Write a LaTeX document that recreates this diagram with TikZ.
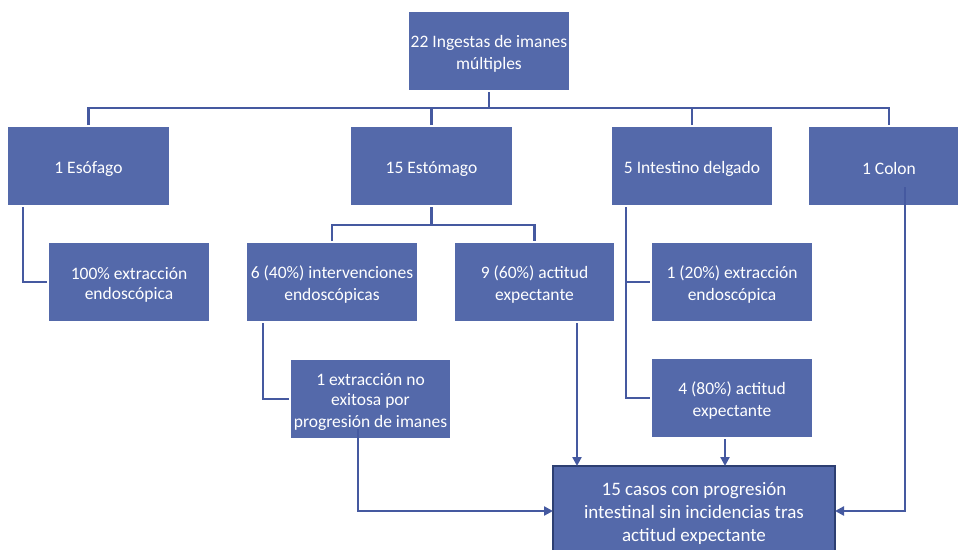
\documentclass[tikz,border=0pt]{standalone}
\usepackage{fontspec}
\setmainfont{Carlito}
\usetikzlibrary{arrows.meta}
\definecolor{boxblue}{HTML}{5469AA}
\definecolor{lineblue}{HTML}{4559A0}
\definecolor{edgeblue}{HTML}{2D3F72}
\newcommand{\lnstrut}{\rule[-2pt]{0pt}{20pt}}
\newcommand{\bigstrut}{\rule[-4pt]{0pt}{23pt}}
\begin{document}
\begin{tikzpicture}[x=1pt,y=-1pt]
\useasboundingbox (0,0) rectangle (958,549);
\begin{scope}[box/.style={rectangle,fill=boxblue,text=white,align=center,
                  font=\fontsize{17.5}{20}\selectfont,
                  minimum width=160pt,minimum height=78pt,inner sep=2pt,outer sep=2pt},
              link/.style={draw=lineblue,line width=2.8pt},
              arr/.style={link,-{Triangle[length=9pt,width=9pt]}}]
    \node [box] (root) at (489,51) {\lnstrut 22 Ingestas de imanes \\ \lnstrut múltiples};
    \node [box,minimum width=161pt] (eso) at (88.5,166) {\lnstrut 1 Esófago};
    \node [box,minimum width=161pt] (est) at (431.5,166) {\lnstrut 15 Estómago};
    \node [box] (int) at (692,166) {\lnstrut 5 Intestino delgado};
    \node [box] (col) at (889,166) {\lnstrut 1 Colon};
    \node [box] (ext100) at (129,282) {\lnstrut 100\% extracción \\ \lnstrut endoscópica};
    \node [box,minimum width=170pt] (int40) at (332,282) {\lnstrut 6 (40\%) intervenciones \\ \lnstrut endoscópicas};
    \node [box,minimum width=159pt] (exp60) at (534.5,282) {\lnstrut 9 (60\%) actitud \\ \lnstrut expectante};
    \node [box] (ext20) at (732,282) {\lnstrut 1 (20\%) extracción \\ \lnstrut endoscópica};
    \node [box] (exp80) at (732,398) {\lnstrut 4 (80\%) actitud \\ \lnstrut expectante};
    \node [box,minimum width=159pt] (noex) at (370.5,399) {\lnstrut 1 extracción no \\ \lnstrut exitosa por \\ \lnstrut progresión de imanes};
    \node [box,minimum width=282pt,minimum height=90pt,outer sep=0pt,
           font=\fontsize{19}{23}\selectfont,
           draw=edgeblue,line width=2.4pt] (fin) at (694,511)
          {\bigstrut 15 casos con progresión \\ \bigstrut intestinal sin incidencias tras \\ \bigstrut actitud expectante};
    \coordinate (busA) at (489,108);
    \coordinate (busB) at (431.5,225);
    % first level
    \draw [link] (root.south) -- (busA);
    \draw [link] (eso.north) |- (busA) -| (col.north);
    \draw [link] (est.north) -- (est.north |- busA);
    \draw [link] (int.north) -- (int.north |- busA);
    % branches
    \draw [link] ([xshift=-65.5pt]eso.south) |- (ext100.west);
    \draw [link] (est.south) -- (busB);
    \draw [link] (int40.north) |- (busB) -| (exp60.north);
    \draw [link] ([xshift=-66pt]int.south) |- (ext20.west);
    \draw [link] ([xshift=-66pt]int.south) |- (exp80.west);
    \draw [link] ([xshift=-69pt]int40.south) |- (noex.west);
    % into the last box
    \draw [arr] ([xshift=42.5pt]exp60.south) -- ([xshift=42.5pt]exp60.south |- fin.north);
    \draw [arr] ([xshift=-7pt]exp80.south) -- ([xshift=-7pt]exp80.south |- fin.north);
    \draw [arr] ([xshift=-12.5pt,yshift=11pt]noex.south) |- (fin.west);
    \draw [arr] ([xshift=16pt,yshift=20pt]col.south) |- (fin.east);
\end{scope}
\end{tikzpicture}
\end{document}
